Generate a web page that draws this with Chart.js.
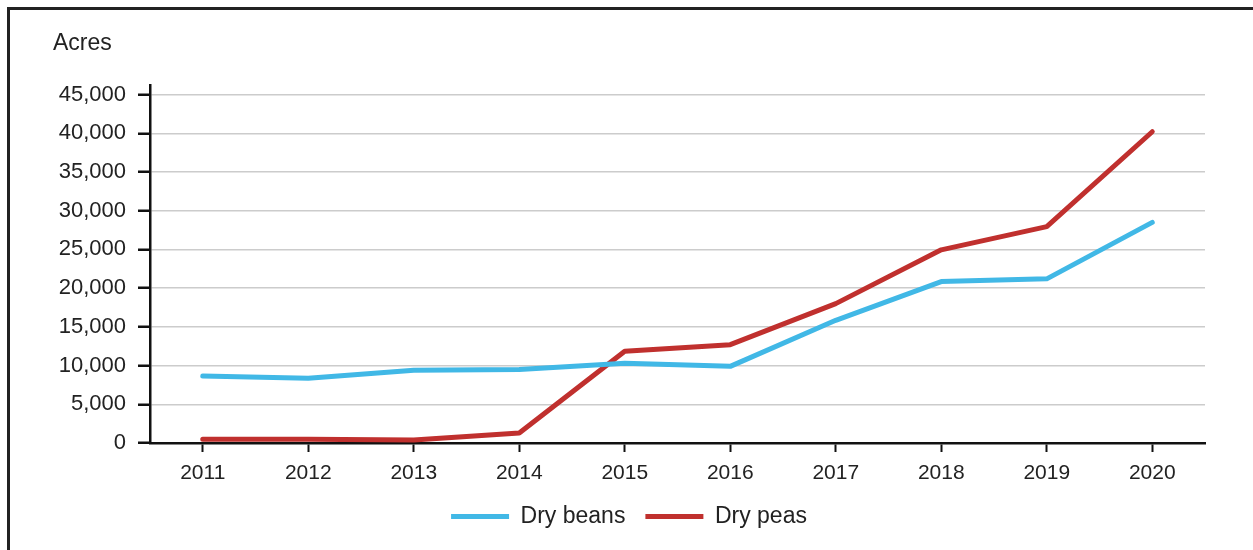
<!DOCTYPE html>
<html>
<head>
<meta charset="utf-8">
<script src="https://cdn.jsdelivr.net/npm/chart.js@4.4.1/dist/chart.umd.min.js"></script>
<style>
    html, body { margin: 0; padding: 0; background: #fff; overflow: hidden; }
    .frame {
        position: absolute; left: 7px; top: 7px; width: 1300px; height: 600px;
        border-left: 3px solid #222; border-top: 3px solid #222;
    }
    .wrap { position: absolute; left: 0; top: 0; width: 1253px; height: 550px; }
</style>
</head>
<body>
<div class="frame"></div>
<div class="wrap"><canvas id="acresChart"></canvas></div>
<script>
// Data
const years = ['2011', '2012', '2013', '2014', '2015', '2016', '2017', '2018', '2019', '2020'];
const dryBeans = [8650, 8350, 9400, 9500, 10300, 9900, 15850, 20850, 21200, 28500];
const dryPeas = [500, 500, 400, 1300, 11850, 12700, 18000, 24950, 27950, 40200];
const yTicks = [0, 5000, 10000, 15000, 20000, 25000, 30000, 35000, 40000, 45000];

const FONT = "'Liberation Sans', Arial, sans-serif";
const INK = '#222';

const ctx = document.getElementById('acresChart').getContext('2d');

new Chart(ctx, {
    type: 'line',
    data: {
        labels: years,
        datasets: [
            {
                label: 'Dry beans',
                data: dryBeans,
                borderColor: '#41b8e6',
                backgroundColor: '#41b8e6',
                borderWidth: 5,
                borderCapStyle: 'round',
                borderJoinStyle: 'round',
                pointRadius: 0,
                tension: 0
            },
            {
                label: 'Dry peas',
                data: dryPeas,
                borderColor: '#c0302e',
                backgroundColor: '#c0302e',
                borderWidth: 5,
                borderCapStyle: 'round',
                borderJoinStyle: 'round',
                pointRadius: 0,
                tension: 0
            }
        ]
    },
    options: {
        responsive: true,
        maintainAspectRatio: false,
        animation: false,
        layout: {
            padding: { left: 53, right: 48, top: 30, bottom: 12 }
        },
        plugins: {
            title: {
                display: true,
                text: 'Acres',
                align: 'start',
                color: INK,
                font: { family: FONT, size: 23, weight: 'normal' },
                padding: { top: 0, bottom: 28 }
            },
            legend: {
                position: 'bottom',
                labels: {
                    usePointStyle: true,
                    pointStyle: 'line',
                    pointStyleWidth: 58,
                    color: INK,
                    padding: 20,
                    font: { family: FONT, size: 23 }
                }
            },
            tooltip: { enabled: false }
        },
        scales: {
            x: {
                offset: true,
                afterFit: (scale) => { scale.height = 42; },
                grid: {
                    drawOnChartArea: false,
                    tickLength: 9,
                    tickColor: '#111',
                    tickWidth: 2
                },
                border: { color: '#111', width: 2.5 },
                ticks: {
                    color: INK,
                    padding: 9,
                    maxRotation: 0,
                    font: { family: FONT, size: 21 }
                }
            },
            y: {
                min: 0,
                // a little headroom so the axis line rises above the top grid line
                max: 46160,
                afterBuildTicks: (scale) => {
                    scale.ticks = yTicks.map(v => ({ value: v }));
                },
                afterFit: (scale) => { scale.width = 97; },
                grid: {
                    color: '#cccccc',
                    lineWidth: 1.5,
                    tickLength: 12,
                    tickColor: '#111',
                    tickWidth: 2.5
                },
                border: { color: '#111', width: 2.5 },
                ticks: {
                    autoSkip: false,
                    color: INK,
                    padding: 12,
                    font: { family: FONT, size: 22 },
                    callback: (value) => value.toLocaleString('en-US')
                }
            }
        }
    }
});
</script>
</body>
</html>
